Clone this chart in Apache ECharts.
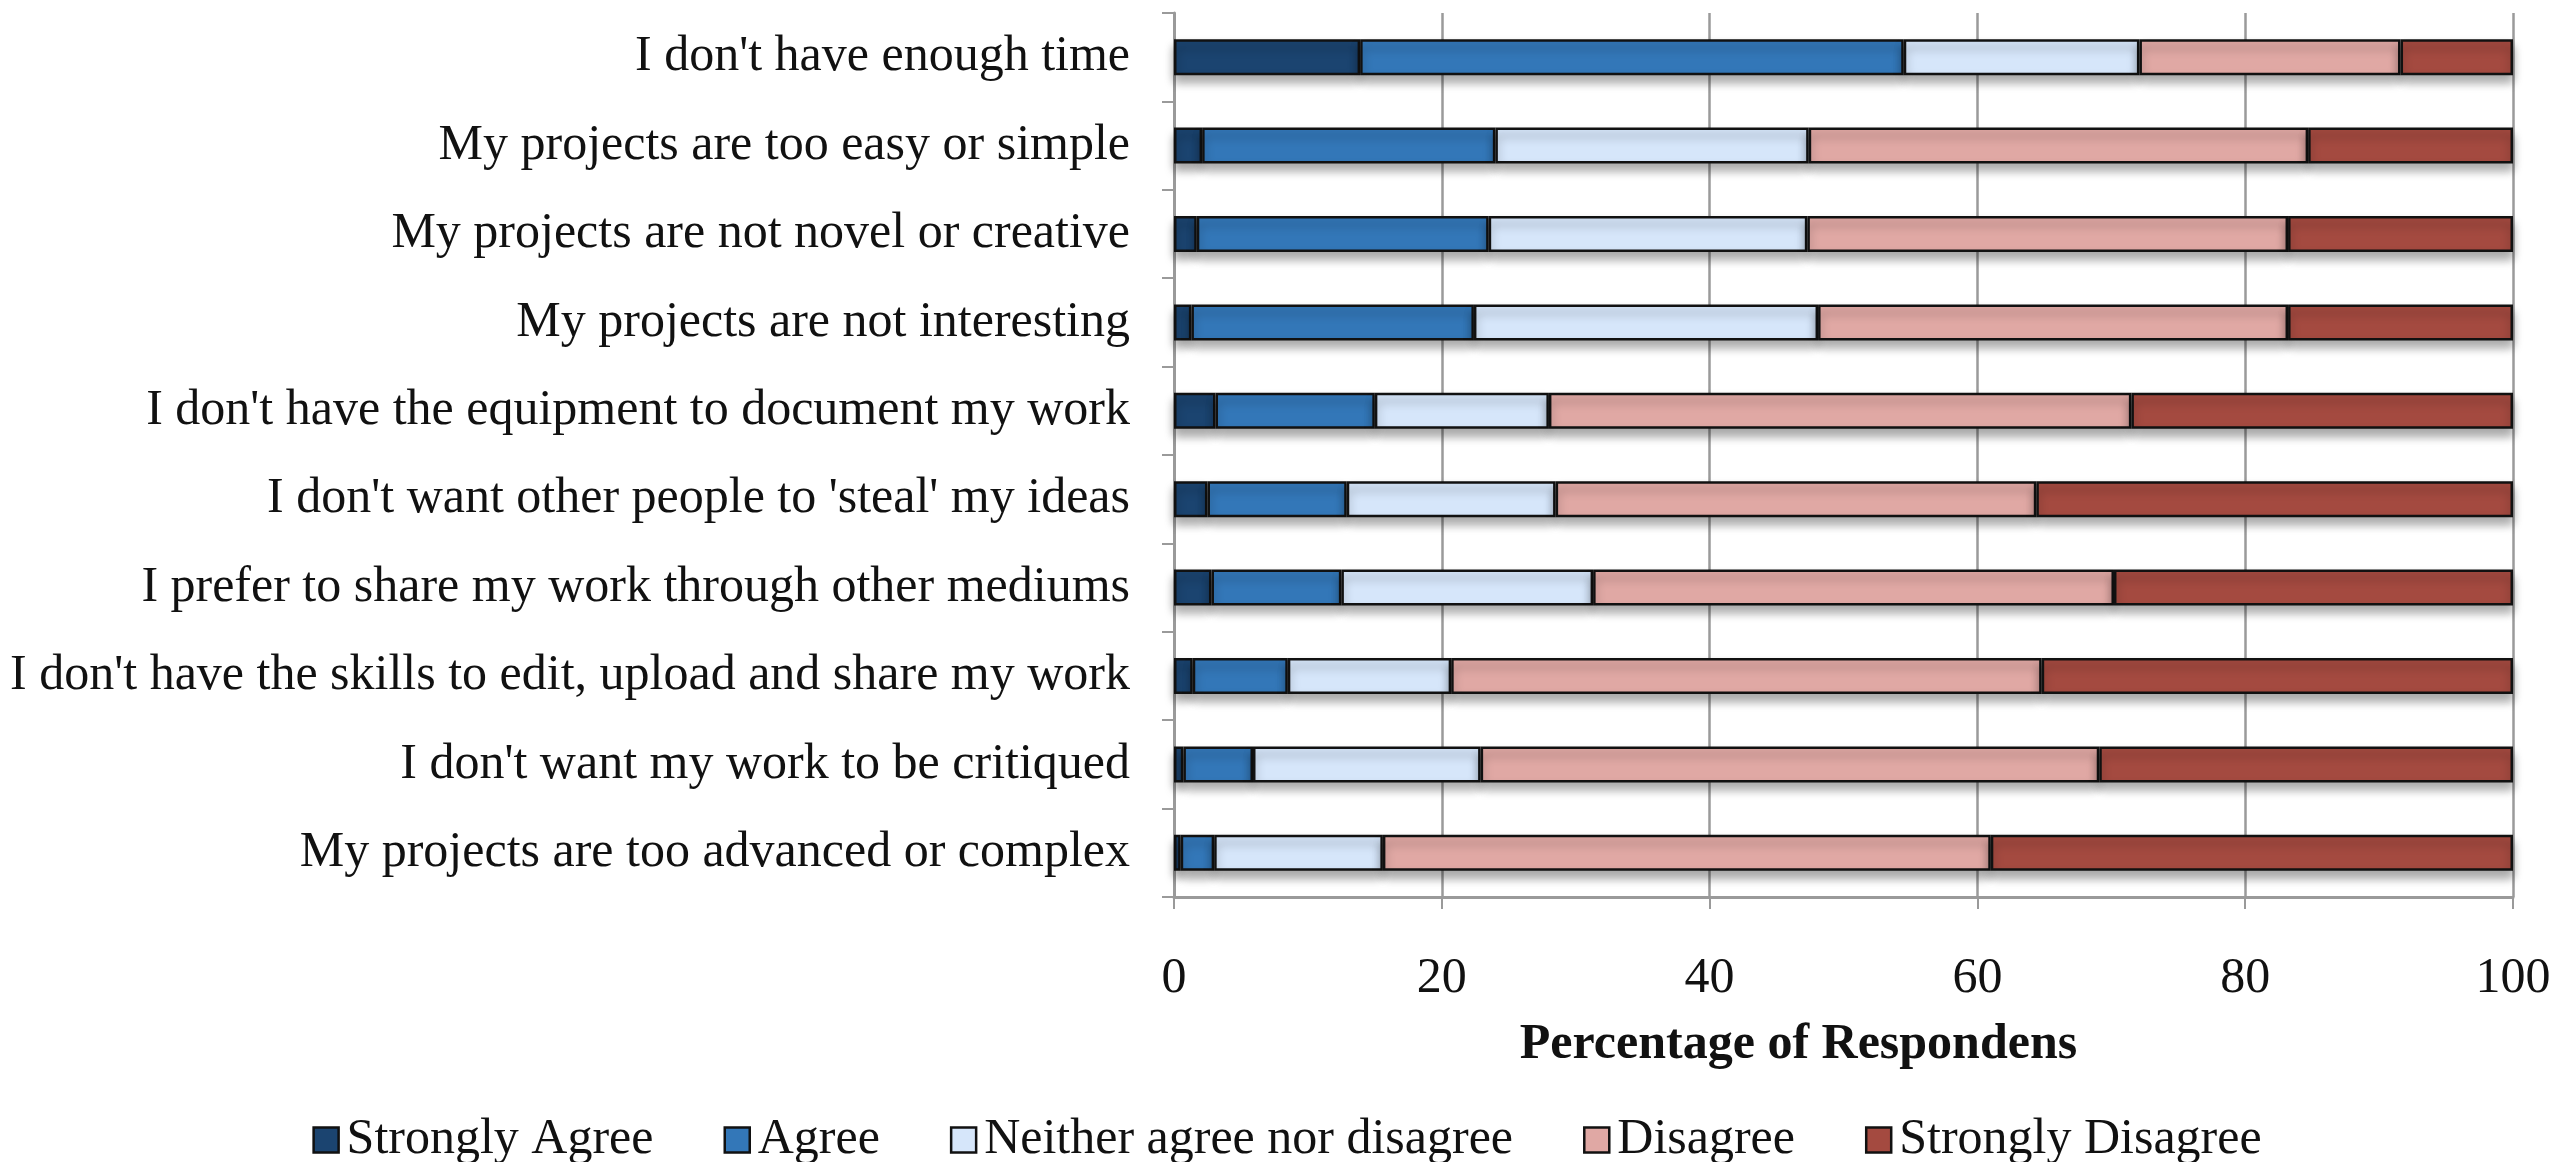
<!DOCTYPE html>
<html>
<head>
<meta charset="utf-8">
<script src="https://cdn.jsdelivr.net/npm/echarts@6/dist/echarts.min.js"></script>
<style>
html,body{margin:0;padding:0;background:#fff;}
#chart{width:2574px;height:1162px;}
</style>
</head>
<body>
<div id="chart"></div>
<script>
const categories = [
  "I don't have enough time",
  "My projects are too easy or simple",
  "My projects are not novel or creative",
  "My projects are not interesting",
  "I don't have the equipment to document my work",
  "I don't want other people to 'steal' my ideas",
  "I prefer to share my work through other mediums",
  "I don't have the skills to edit, upload and share my work",
  "I don't want my work to be critiqued",
  "My projects are too advanced or complex"
];
const seriesNames = ["Strongly Agree", "Agree", "Neither agree nor disagree", "Disagree", "Strongly Disagree"];
const stronglyAgree = [13.9, 2.1, 1.7, 1.3, 3.1, 2.5, 2.8, 1.4, 0.7, 0.5];
const agree = [40.6, 21.9, 21.8, 21.1, 11.9, 10.4, 9.7, 7.1, 5.2, 2.5];
const neither = [17.6, 23.4, 23.8, 25.7, 13.0, 15.6, 18.8, 12.2, 17.0, 12.6];
const disagree = [19.5, 37.3, 35.9, 35.1, 43.5, 35.9, 38.9, 44.1, 46.2, 45.4];
const stronglyDisagree = [8.4, 15.3, 16.8, 16.8, 28.5, 35.6, 29.8, 35.2, 30.9, 39.0];
const colors = ["#1b4470", "#3377b8", "#d6e6fa", "#e0a8a4", "#a44a40"];
const xTitle = "Percentage of Respondens";

const FONT = "'Liberation Serif', 'Times New Roman', serif";
const FS = 50;
const values = [stronglyAgree, agree, neither, disagree, stronglyDisagree];

const chart = echarts.init(document.getElementById('chart'));
chart.setOption({
  animation: false,
  textStyle: { fontFamily: FONT },
  grid: { left: 1174, right: 61, top: 13, bottom: 265, containLabel: false },
  legend: {
    data: seriesNames,
    top: 1110,
    left: 'center',
    icon: 'rect',
    itemWidth: 25,
    itemHeight: 25,
    itemGap: 70,
    itemStyle: { borderColor: '#111', borderWidth: 2.5 },
    textStyle: { fontFamily: FONT, fontSize: FS, color: '#111', padding: [0, 0, 0, 3] }
  },
  xAxis: {
    type: 'value',
    min: 0, max: 100, interval: 20,
    name: xTitle,
    nameLocation: 'middle',
    nameGap: 123,
    nameTextStyle: { fontFamily: FONT, fontSize: FS, fontWeight: 'bold', color: '#111', padding: [0, 90, 0, 0] },
    axisLine: { show: true, lineStyle: { color: '#9a9a9a', width: 3 } },
    axisTick: { show: true, length: 12, lineStyle: { color: '#9a9a9a', width: 2 } },
    axisLabel: { fontFamily: FONT, fontSize: FS, color: '#111', margin: 57 },
    splitLine: { show: true, lineStyle: { color: '#9a9a9a', width: 2.5 } }
  },
  yAxis: {
    type: 'category',
    data: categories,
    inverse: true,
    axisLine: { show: true, lineStyle: { color: '#9a9a9a', width: 3 } },
    axisTick: { show: true, length: 12, lineStyle: { color: '#9a9a9a', width: 2 } },
    axisLabel: { fontFamily: FONT, fontSize: FS, color: '#111', margin: 44 }
  },
  series: seriesNames.map((name, i) => ({
    name: name,
    type: 'bar',
    stack: 'total',
    barWidth: 36,
    data: values[i],
    itemStyle: {
      color: colors[i],
      borderColor: '#111',
      borderWidth: 2.5,
      shadowColor: 'rgba(0,0,0,0.35)',
      shadowBlur: 10,
      shadowOffsetY: 7
    }
  }))
});
</script>
</body>
</html>
